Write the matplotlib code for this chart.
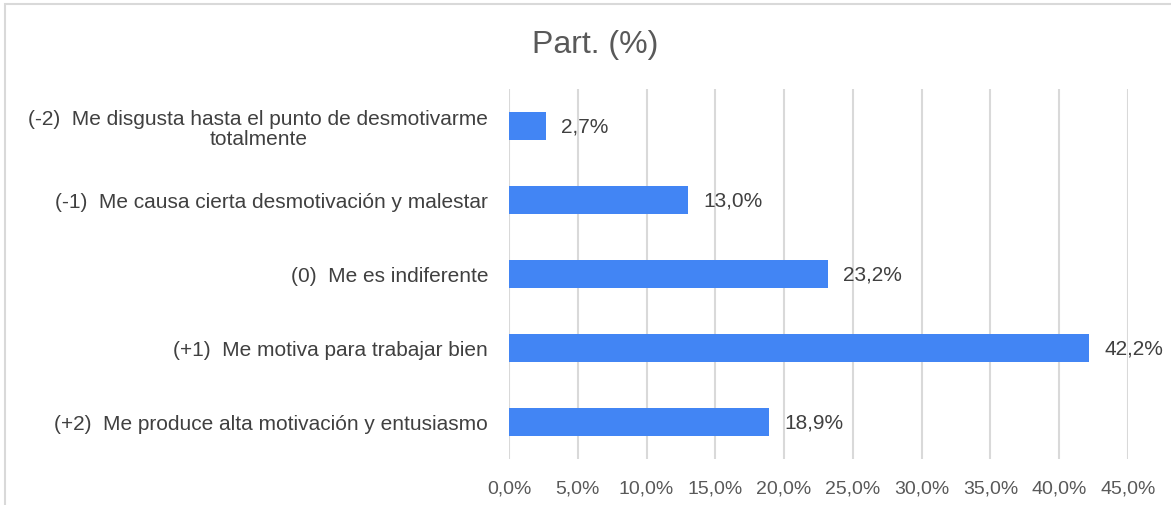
import matplotlib
matplotlib.use("Agg")
import matplotlib.pyplot as plt
from matplotlib.patches import Rectangle

plt.rcParams["font.family"] = ["Liberation Sans", "DejaVu Sans"]

# Data (top to bottom)
categories = [
    "(-2)  Me disgusta hasta el punto de desmotivarme\ntotalmente",
    "(-1)  Me causa cierta desmotivación y malestar",
    "(0)  Me es indiferente",
    "(+1)  Me motiva para trabajar bien",
    "(+2)  Me produce alta motivación y entusiasmo",
]
values = [2.7, 13.0, 23.2, 42.2, 18.9]
xticks = [0, 5, 10, 15, 20, 25, 30, 35, 40, 45]

BAR = "#4285F4"
TXT = "#595959"

fig = plt.figure(figsize=(11.71, 5.06), dpi=100)
ax = fig.add_axes([509 / 1171, 46 / 506, 619 / 1171, 370 / 506])

# chart frame, partly clipped like the screenshot
fig.patches.append(Rectangle((5 / 1171, -0.1), 1.2, (501 / 506) + 0.1,
                             transform=fig.transFigure, fill=False,
                             edgecolor="#d9d9d9", linewidth=1.5))

ypos = list(range(len(categories)))
ax.barh(ypos, values, height=0.38, color=BAR, zorder=3)
for y, v in zip(ypos, values):
    ax.text(v + 1.1, y, f"{v:.1f}%".replace(".", ","), va="center", ha="left",
            fontsize=15, color="#404040")

ax.set_xlim(0, 45)
ax.set_ylim(len(categories) - 0.5, -0.5)
ax.set_xticks(xticks)
ax.set_xticklabels([f"{t:.1f}%".replace(".", ",") for t in xticks],
                   fontsize=14, color=TXT)
ax.set_yticks(ypos)
ax.set_yticklabels(categories, fontsize=15, color="#404040",
                   multialignment="center", linespacing=1.05)
ax.tick_params(axis="both", length=0)
ax.tick_params(axis="x", pad=15)
ax.tick_params(axis="y", pad=15)
for s in ax.spines.values():
    s.set_visible(False)
ax.grid(axis="x", color="#d9d9d9", linewidth=1.5, zorder=0)
ax.set_axisbelow(True)

fig.text(595 / 1171, 1 - 45 / 506, "Part. (%)", ha="center", va="center",
         fontsize=23, color=TXT)

fig.savefig("out.png", dpi=100)
